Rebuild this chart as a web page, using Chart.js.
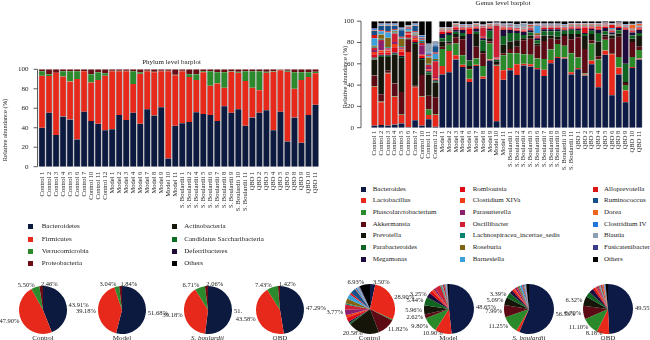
<!DOCTYPE html>
<html>
<head>
<meta charset="utf-8">
<script src="https://cdn.jsdelivr.net/npm/chart.js@4.4.1/dist/chart.umd.min.js"></script>
<style>
  body { margin: 0; background: #fff; }
  #fig { position: relative; width: 650px; height: 340px; overflow: hidden; font-family: "Liberation Serif", "Times New Roman", serif; color: #222; }
  canvas { position: absolute; }
  .sq { position: absolute; width: 5px; height: 5px; }
  .lg { position: absolute; font-size: 7px; line-height: 9px; white-space: nowrap; }
  .cap { position: absolute; font-size: 7px; line-height: 8px; white-space: nowrap; transform: translateX(-50%); }
</style>
</head>
<body>
<div id="fig"></div>
<script>
const SERIF = '"Liberation Serif", "Times New Roman", serif';

// sample names on both barplots
const samples = ['Control 1','Control 2','Control 3','Control 4','Control 5','Control 6','Control 7','Control 10','Control 11','Control 12',
  'Model 1','Model 2','Model 3','Model 4','Model 6','Model 7','Model 8','Model 9','Model 10','Model 11',
  'S. Boulardii 1','S. Boulardii 2','S. Boulardii 4','S. Boulardii 5','S. Boulardii 6','S. Boulardii 7','S. Boulardii 8','S. Boulardii 9','S. Boulardii 10','S. Boulardii 11',
  'QBD 1','QBD 2','QBD 3','QBD 4','QBD 5','QBD 6','QBD 8','QBD 9','QBD 10','QBD 11'];
const yTicks = [0, 20, 40, 60, 80, 100];
const groups = ['Control', 'Model', 'S. boulardii', 'QBD'];

// ---- phylum level ----
const phylumNames = ['Bacteroidetes','Firmicutes','Verrucomicrobia','Proteobacteria','Actinobacteria','Candidatus Saccharibacteria','Deferribacteres','Others'];
const phylumColors = ['#0c1a40','#e6291b','#2b8a2b','#6a0d16','#17170a','#0b6d20','#200b35','#000000'];
const bacteroidetes = [40, 55.5, 32.5, 51.5, 48.5, 28, 56.5, 47, 44, 37.5, 38.5, 53, 48, 55.5, 44, 59, 52.5, 61, 8.5, 42, 44.5, 46, 56, 54, 53, 47, 62, 55.5, 59, 42, 50.5, 55.5, 58, 37.5, 56.5, 26, 50.5, 24.5, 53, 63.5];
const firmicutes = [53.5, 37.5, 64, 41, 39, 62, 41.5, 39.5, 45, 56, 59.5, 45, 50, 29.5, 51.5, 39, 44.5, 37, 89.5, 52, 53.5, 46, 33, 43, 30, 38.5, 19, 42, 37.5, 46, 30.5, 23, 38.5, 60, 42.5, 71.5, 29.5, 64.5, 39, 32.5];
const verrucomicrobia = [4.5, 2, 0, 5.5, 10.5, 8, 0, 8.5, 8, 2.5, 0.5, 0.5, 0.5, 13, 1.5, 0.5, 0.5, 0.5, 0.5, 0.5, 0.5, 3, 6, 1, 15, 11.5, 16, 0.5, 1, 10, 17, 19.5, 1, 0.5, 0.5, 1, 17, 8, 5, 1.5];
const proteobacteria = [2, 5, 3.5, 2, 2, 2, 2, 5, 3, 4, 1.5, 1.5, 1.5, 2, 3, 1.5, 2.5, 1.5, 1.5, 5.5, 1.5, 5, 5, 2, 2, 3, 3, 2, 2.5, 2, 2, 2, 2.5, 2, 0.5, 1.5, 3, 3, 3, 2.5];

const phylumPieControl = [43.91, 47.90, 5.50, 2.46];
const phylumPieModel = [51.68, 39.18, 3.04, 1.84];
const phylumPieSb = [51.80, 39.18, 6.71, 2.06];
const phylumPieQbd = [47.29, 43.58, 7.43, 1.42];
const phylumTextControl = ['43.91%', '47.90%', '5.50%', '2.46%'];
const phylumTextModel = ['51.68%', '39.18%', '3.04%', '1.84%'];
const phylumTextSb = ['51.', '39.18%', '6.71%', '2.06%'];
const phylumTextQbd = ['47.29%', '43.58%', '7.43%', '1.42%'];

// ---- genus level ----
const genusNames = ['Bacteroides','Lactobacillus','Phascolarctobacterium','Akkermansia','Prevotella','Parabacteroides','Megamonas',
  'Romboutsia','Clostidium XIVa','Parasutterella','Oscillibacter','Lachnospiracea_incertae_sedis','Roseburia','Barnesiella',
  'Alloprevotella','Ruminococcus','Dorea','Clostridium IV','Blautia','Fusicatenibacter','Others'];
const genusColors = ['#0c1a45','#e8281a','#2a8a2a','#5c0a14','#15150a','#0e6420','#1e0a3c',
  '#e00a14','#f03c14','#8c1e6e','#d01e32','#0a8070','#806414','#3ca0dc',
  '#dc1414','#14508c','#f0641e','#1e78dc','#8ca0b4','#3c3c8c','#000000'];
const bacteroides = [2, 2.5, 2, 3, 4, 0.5, 7, 2, 8, 1, 50, 52, 64, 57, 43, 58, 46, 63, 6, 45, 54, 49.5, 58.5, 57.5, 55, 48.5, 60.5, 65.5, 65, 50, 55, 49, 59.5, 38, 68.5, 30.5, 50, 24, 56, 64];
const lactobacillus = [36.5, 21.5, 49, 26, 8, 70.5, 31, 27, 4, 11, 8, 20, 4, 2, 3, 1, 2, 1, 52, 9, 2, 10, 1.5, 2, 1, 6, 3, 1, 1, 2, 1, 1, 3.5, 13, 4, 38.5, 6.5, 11, 1, 1];
const phascolarctobacterium = [0.5, 0.5, 0.5, 0.5, 0.5, 0, 0.5, 0.5, 5, 0.5, 16, 6, 11, 9, 9, 6, 10, 15, 0.5, 14, 14, 10.5, 9, 9, 9, 10, 10, 12, 11, 18, 10, 1, 16, 13, 10, 0.5, 10, 5, 9.5, 8];
const akkermansia = [10, 7, 2, 12, 21, 12, 1, 20, 13, 16, 2, 1, 6, 15, 1, 11, 12, 2, 1, 2, 4, 6, 13, 15, 12, 17, 10, 4, 9, 13, 19, 23, 3, 3, 3, 14, 19, 2, 14, 3];
const prevotella = [15, 35, 13, 27, 32, 0.5, 39, 14, 20, 14, 5, 2, 3, 3, 2, 12, 2, 3, 3, 8, 7, 6, 2, 3, 2, 5, 3, 3, 2, 5, 3, 12, 6, 14, 2, 3, 3, 1, 3, 10];
const parabacteroides = [1, 1, 1, 1, 1, 0.5, 1, 1, 2, 1, 3, 6, 2, 3, 5, 2, 10, 7, 1, 8, 8, 7, 3, 3, 3, 4, 4, 5, 3, 4, 3, 2, 3, 8, 3, 1, 3, 17, 3, 3];
const megamonas = [1, 1, 1, 1, 1, 0.5, 1, 1, 1, 1, 4, 2, 2, 3, 25, 3, 2, 2, 0.5, 6, 3, 2, 3, 2, 2, 2, 2, 2, 1, 1, 2, 1, 2, 3, 3, 2, 2, 32, 3, 3];
const romboutsia = [3, 2, 2, 5, 4, 3, 2, 2, 1, 1, 2, 1, 2, 1, 5, 1, 1, 1, 1, 1, 1, 1, 1, 1, 1, 1, 1, 1, 1, 1, 1, 5, 1, 1, 1, 1, 1, 1, 1, 1];
const clostridiumXIVa = [2, 2, 2, 3, 2, 1, 2, 1, 1, 1, 0.5, 0.5, 0.5, 0.5, 0.5, 0.5, 0.5, 0.5, 0.5, 1, 0.5, 0.5, 0.5, 0.5, 0.5, 0.5, 0.5, 0.5, 0.5, 0.5, 0.5, 0.5, 0.5, 1.5, 0.5, 0.5, 0.5, 0.5, 0.5, 0.5];
const parasutterella = [2, 9, 1, 2, 1, 0.5, 1, 9, 2, 1, 0.5, 0.5, 0.5, 0.5, 0.5, 0.5, 0.5, 0.5, 0.3, 0.5, 0.5, 0.5, 0.5, 0.5, 0.5, 0.5, 0.5, 0.5, 0.5, 0.5, 0.5, 0.5, 0.5, 0.5, 0.5, 0.5, 0.5, 0.5, 0.5, 0.5];
const oscillibacter = [2, 1, 1, 8, 1, 1, 1, 2, 2, 15, 0.5, 0.5, 0.5, 0.5, 0.5, 0.5, 8, 0.5, 30, 0.5, 0.5, 0.5, 0.5, 0.5, 0.5, 0.5, 0.5, 0.5, 0.5, 0.5, 0.5, 0.5, 0.5, 0.5, 0.5, 0.5, 0.5, 0.5, 0.5, 0.5];
const lachnospiracea = [1, 1, 1, 1, 1, 0.5, 1, 1, 1, 1, 0.3, 0.3, 0.3, 0.3, 0.3, 0.3, 0.3, 0.3, 0.3, 0.3, 0.3, 0.3, 0.3, 0.3, 0.3, 0.3, 0.3, 0.3, 0.3, 0.3, 0.3, 0.3, 0.3, 0.3, 0.3, 0.3, 0.3, 0.3, 0.3, 0.3];
const roseburia = [1, 4, 9, 1, 7, 0.5, 1, 1, 6, 1, 0.3, 0.3, 0.3, 0.3, 0.3, 0.3, 0.3, 0.3, 0.3, 0.3, 0.3, 0.3, 0.3, 1, 2, 0.3, 0.3, 0.3, 0.3, 0.3, 0.3, 0.3, 0.3, 0.3, 0.3, 0.3, 0.3, 0.3, 0.3, 0.3];
const barnesiella = [7, 3, 5, 1, 1, 2, 1, 1, 1, 5, 0.3, 0.3, 0.3, 0.3, 0.3, 0.3, 0.3, 0.3, 0.3, 0.3, 0.3, 1, 0.3, 0.3, 7, 0.3, 0.3, 0.3, 0.3, 0.3, 0.3, 0.3, 0.3, 0.3, 0.3, 1, 0.3, 0.3, 0.3, 0.3];
const alloprevotella = [3, 1, 1, 1, 1, 1, 1, 1, 1, 1, 0.5, 0.5, 0.5, 0.5, 0.5, 0.5, 0.5, 0.5, 0.5, 0.5, 0.5, 0.5, 0.5, 0.5, 0.5, 0.5, 0.5, 0.5, 0.5, 0.5, 0.5, 0.5, 0.5, 0.5, 0.5, 3, 0.5, 0.5, 0.5, 0.5];
const ruminococcus = [4, 4, 5, 3, 6, 0.5, 5, 1, 1, 6, 0.3, 0.3, 0.3, 0.3, 0.3, 0.3, 0.3, 0.3, 0.3, 0.3, 1, 0.3, 0.3, 0.3, 0.3, 0.3, 0.3, 0.3, 0.3, 0.3, 0.3, 0.3, 0.3, 0.3, 0.3, 0.3, 0.3, 0.3, 0.3, 0.3];
const dorea = [0.5, 0.5, 0.5, 0.5, 0.5, 0.5, 0.5, 0.5, 0.5, 0.5, 0.3, 0.3, 0.3, 0.3, 0.3, 0.3, 0.3, 0.3, 0.3, 0.3, 0.3, 0.3, 0.3, 0.3, 0.3, 0.3, 0.3, 0.3, 0.3, 0.3, 0.3, 0.3, 0.3, 0.3, 0.3, 0.3, 0.3, 0.3, 3, 1.5];
const clostridiumIV = [1, 1, 1, 1, 1, 0.5, 1, 1, 1, 1, 0.3, 0.3, 0.3, 0.3, 0.3, 0.3, 0.3, 0.3, 0.3, 0.3, 0.3, 0.3, 0.3, 0.3, 0.3, 0.3, 0.3, 0.3, 0.3, 0.3, 0.3, 0.3, 0.3, 0.3, 0.3, 0.3, 0.3, 0.3, 0.3, 0.3];
const blautia = [0.5, 0.5, 0.5, 0.5, 0.5, 0.5, 0.5, 0.5, 8, 3, 0.3, 0.3, 0.3, 0.3, 0.3, 0.3, 0.3, 0.3, 0.3, 0.3, 0.3, 0.3, 3, 0.3, 0.3, 0.3, 0.3, 0.3, 0.3, 0.3, 0.3, 0.3, 0.3, 0.3, 0.3, 0.3, 0.3, 0.3, 0.3, 0.3];
const fusicatenibacter = [0.5, 0.5, 0.5, 0.5, 0.5, 0.5, 0.5, 0.5, 0.5, 0.5, 0.3, 0.3, 0.3, 0.3, 0.3, 0.3, 0.3, 0.3, 0.3, 0.3, 0.3, 0.3, 0.3, 0.3, 0.3, 0.3, 0.3, 0.3, 0.3, 0.3, 0.3, 0.3, 0.3, 0.3, 0.3, 0.3, 0.3, 0.3, 0.3, 0.3];
const genusOthers = [6.5, 2, 2, 2, 6, 3.5, 2, 13, 21, 0, 5.6, 5.6, 1.6, 2.6, 2.6, 1.6, 3.1, 1.6, 1.3, 2.1, 1.9, 2.9, 1.9, 2.4, 2.2, 2.1, 2.1, 2.1, 2.6, 1.6, 1.6, 1.6, 1.6, 1.6, 1.1, 1.9, 1.1, 2.6, 2.4, 1.4];

const genusPieControl = [3.50, 28.90, 0.6, 11.82, 20.58, 1.1, 1.0, 2.7, 1.8, 3.77, 3.2, 0.9, 3.2, 3.1, 1.3, 3.6, 0.5, 0.9, 1.5, 0.5, 6.93];
const genusPieModel = [48.65, 10.90, 9.80, 2.62, 5.96, 5.44, 3.25, 2.0, 1.5, 1.2, 3.5, 0.6, 0.5, 0.6, 1.0, 0.5, 0.4, 0.4, 0.4, 0.4, 1.0];
const genusPieSb = [56.53, 2.0, 11.25, 7.99, 5.09, 3.39, 2.2, 1.2, 1.0, 1.2, 1.0, 0.5, 0.8, 1.5, 0.6, 0.5, 0.4, 0.4, 0.6, 0.3, 1.8];
const genusPieQbd = [49.55, 8.18, 11.10, 8.70, 6.32, 3.5, 3.0, 1.5, 1.0, 0.8, 0.8, 0.4, 0.4, 0.5, 0.8, 0.4, 1.0, 0.4, 0.4, 0.3, 1.6];
const genusTextControl = ['3.50%', '28.90%', null, '11.82%', '20.58%', null, null, null, null, '3.77%', null, null, null, null, null, null, null, null, null, null, '6.93%'];
const genusTextModel = ['48.65%', '10.90%', '9.80%', '2.62%', '5.96%', '5.44%', '3.25%'];
const genusTextSb = ['56.53%', null, '11.25%', '7.99%', '5.09%', '3.39%'];
const genusTextQbd = ['49.55%', '8.18%', '11.10%', '8.70%', '6.32%'];

const fig = document.getElementById('fig');

// axis line, tick marks and titles drawn by hand (the axis sits a bit left of the bars)
const frame = {
  id: 'frame',
  afterDraw(chart, args, o) {
    const {ctx, chartArea: a} = chart;
    const y = chart.scales.y;
    const ax = a.left - o.gap;
    ctx.save();
    ctx.strokeStyle = '#333';
    ctx.lineWidth = 0.8;
    ctx.beginPath();
    ctx.moveTo(ax, y.getPixelForValue(0));
    ctx.lineTo(ax, y.getPixelForValue(100));
    yTicks.forEach(v => {
      const py = y.getPixelForValue(v);
      ctx.moveTo(ax - 4, py);
      ctx.lineTo(ax, py);
    });
    ctx.stroke();
    ctx.fillStyle = '#222';
    ctx.textAlign = 'center';
    ctx.textBaseline = 'middle';
    ctx.font = '7px ' + SERIF;
    ctx.fillText(o.title, o.titleX, o.titleY);
    ctx.font = '6.5px ' + SERIF;
    ctx.translate(o.yTitleX, o.yTitleY);
    ctx.rotate(-Math.PI / 2);
    ctx.fillText('Relative abundance (%)', 0, 0);
    ctx.restore();
  }
};

function stackSet(label, data, color) {
  return {
    label, data, backgroundColor: color,
    borderColor: '#c4c4c4',
    borderWidth: {left: 1, right: 1, top: 0, bottom: 0},
    borderSkipped: false,
    barPercentage: 1, categoryPercentage: 1
  };
}

function barChart(left, top, w, h, sets, c) {
  const cv = document.createElement('canvas');
  cv.width = w; cv.height = h;
  cv.style.left = left + 'px'; cv.style.top = top + 'px';
  fig.appendChild(cv);
  new Chart(cv, {
    type: 'bar',
    data: { labels: samples, datasets: sets },
    options: {
      responsive: false,
      animation: false,
      layout: { padding: { top: c.padTop, right: c.padRight, bottom: 0, left: 0 } },
      plugins: { legend: { display: false }, tooltip: { enabled: false }, frame: c.frame },
      scales: {
        x: {
          stacked: true,
          grid: { display: false, drawTicks: false },
          border: { display: false },
          ticks: { autoSkip: false, minRotation: 90, maxRotation: 90, padding: c.xPad, color: '#222', font: { family: SERIF, size: 6.5 } },
          afterFit: s => { s.height = c.xHeight; }
        },
        y: {
          stacked: true, min: 0, max: 100,
          grid: { display: false, drawTicks: false },
          border: { display: false },
          afterBuildTicks: s => { s.ticks = yTicks.map(v => ({ value: v })); },
          ticks: { padding: c.yPad, color: '#222', font: { family: SERIF, size: 7 } },
          afterFit: s => { s.width = c.yWidth; }
        }
      }
    },
    plugins: [frame]
  });
}

const phylumSeries = [bacteroidetes, firmicutes, verrucomicrobia, proteobacteria];
barChart(0, 55, 330, 170, phylumSeries.map((d, i) => stackSet(phylumNames[i], d, phylumColors[i])), {
  padTop: 14.3, padRight: 11, xHeight: 58.3, xPad: 5, yWidth: 38.5, yPad: 10,
  frame: { gap: 1, title: 'Phylum level barplot', titleX: 171.5, titleY: 7.5, yTitleX: 5, yTitleY: 75 }
});

const genusSeries = [bacteroides, lactobacillus, phascolarctobacterium, akkermansia, prevotella, parabacteroides, megamonas,
  romboutsia, clostridiumXIVa, parasutterella, oscillibacter, lachnospiracea, roseburia, barnesiella,
  alloprevotella, ruminococcus, dorea, clostridiumIV, blautia, fusicatenibacter, genusOthers];
barChart(330, 0, 320, 180, genusSeries.map((d, i) => stackSet(genusNames[i], d, genusColors[i])), {
  padTop: 9.3, padRight: 3, xHeight: 52.3, xPad: 3, yWidth: 41, yPad: 17,
  frame: { gap: 10, title: 'Genus level barplot', titleX: 173, titleY: 3, yTitleX: 15, yTitleY: 77 }
});

// legends
function legend(names, colors, rows, sqX, txX, y0, dy) {
  names.forEach((n, i) => {
    const c = Math.floor(i / rows), r = i % rows;
    const y = y0 + r * dy;
    const sq = document.createElement('div');
    sq.className = 'sq';
    sq.style.left = sqX[c] + 'px';
    sq.style.top = (y - 2.5) + 'px';
    sq.style.background = colors[i];
    fig.appendChild(sq);
    const t = document.createElement('div');
    t.className = 'lg';
    t.textContent = n;
    t.style.left = txX[c] + 'px';
    t.style.top = (y - 4.5) + 'px';
    fig.appendChild(t);
  });
}
legend(phylumNames, phylumColors, 4, [28, 172], [41.7, 184.3], 226.7, 12.4);
legend(genusNames, genusColors, 7, [360.7, 460, 592.7], [372.7, 472.7, 604], 189.3, 11.67);

// pies: percentage labels just outside each labelled slice
const pieText = {
  id: 'pieText',
  afterDatasetsDraw(chart, args, o) {
    const {ctx} = chart;
    ctx.save();
    ctx.fillStyle = '#222';
    ctx.font = '6.5px ' + SERIF;
    ctx.textBaseline = 'middle';
    chart.getDatasetMeta(0).data.forEach((arc, i) => {
      const t = o.texts[i];
      if (!t) return;
      const p = arc.getProps(['x', 'y', 'startAngle', 'endAngle', 'outerRadius'], true);
      const a = (p.startAngle + p.endAngle) / 2;
      const r = p.outerRadius + 2;
      const cs = Math.cos(a), sn = Math.sin(a);
      if (cs >= 0.1) ctx.textAlign = 'left';
      else if (cs <= -0.1) ctx.textAlign = 'right';
      else ctx.textAlign = sn < 0 ? 'left' : 'center';
      const py = Math.min(p.y + sn * r, p.y + p.outerRadius - 1);
      ctx.fillText(t, p.x + cs * r, py);
    });
    ctx.restore();
  }
};

function pie(cx, cy, r, values, colors, texts, caption) {
  const cv = document.createElement('canvas');
  cv.width = 100; cv.height = 76;
  cv.style.left = (cx - 50) + 'px';
  cv.style.top = (cy - 38) + 'px';
  fig.appendChild(cv);
  new Chart(cv, {
    type: 'pie',
    data: { datasets: [{ data: values, backgroundColor: colors, borderWidth: 0, radius: r }] },
    options: {
      responsive: false, animation: false, radius: r,
      layout: { padding: 0 },
      plugins: { legend: { display: false }, tooltip: { enabled: false }, pieText: { texts } }
    },
    plugins: [pieText]
  });
  const cap = document.createElement('div');
  cap.className = 'cap';
  cap.textContent = caption;
  if (caption === 'S. boulardii') cap.style.fontStyle = 'italic';
  cap.style.left = cx + 'px';
  cap.style.top = '334px';
  fig.appendChild(cap);
}

pie(43, 310, 24, phylumPieControl, phylumColors, phylumTextControl, groups[0]);
pie(122, 310, 24, phylumPieModel, phylumColors, phylumTextModel, groups[1]);
pie(207.5, 310, 24, phylumPieSb, phylumColors, phylumTextSb, groups[2]);
pie(280, 310, 24, phylumPieQbd, phylumColors, phylumTextQbd, groups[3]);

pie(369.5, 309, 25, genusPieControl, genusColors, genusTextControl, groups[0]);
pie(448.5, 309, 25, genusPieModel, genusColors, genusTextModel, groups[1]);
pie(529, 309, 25, genusPieSb, genusColors, genusTextSb, groups[2]);
pie(608, 309, 25, genusPieQbd, genusColors, genusTextQbd, groups[3]);
</script>
</body>
</html>
